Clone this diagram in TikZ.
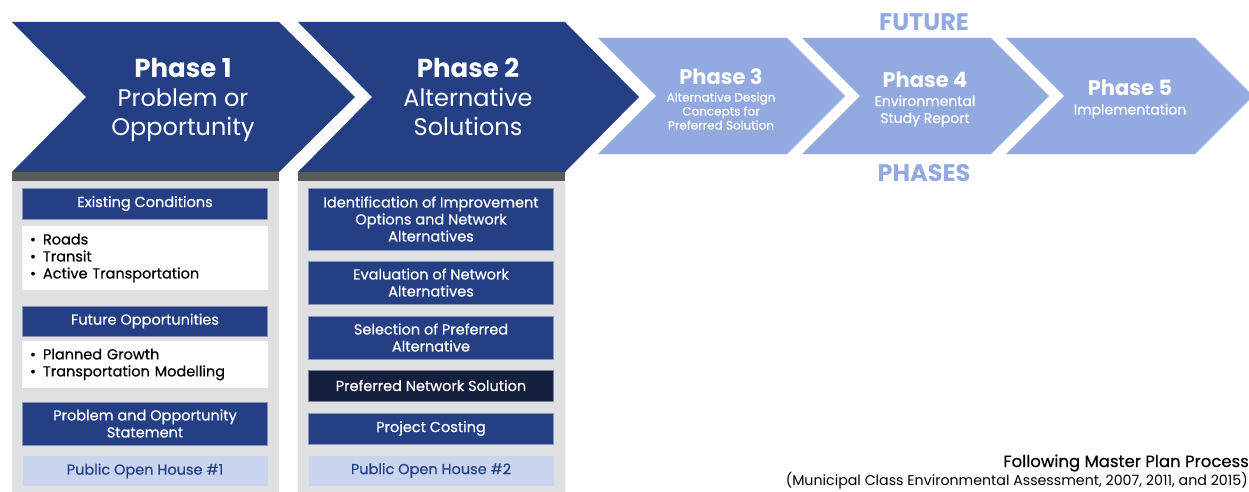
\documentclass[tikz,border=0pt]{standalone}
\usepackage{fontspec}
\setmainfont{Poppins}
\newfontfamily\medfont{Poppins}[FakeBold=0.5]
\definecolor{navy}{HTML}{243F84}
\definecolor{darknavy}{HTML}{15203E}
\definecolor{lightblue}{HTML}{93AAE1}
\definecolor{paleblue}{HTML}{C9D5EF}
\definecolor{panelgray}{HTML}{DFE0E2}
\definecolor{bargray}{HTML}{58595B}
\newcommand{\fs}[2]{\fontsize{#1}{#2}\selectfont}

\begin{document}
\begin{tikzpicture}[x=1pt,y=-1pt,
  task/.style={fill=#1,draw=#1!55!white,line width=0.8pt,text=white,minimum width=245pt,align=center,inner sep=0pt,font=\medfont\fs{14.5}{17}},
  note/.style={fill=white,text=black,minimum width=246pt,text width=230pt,align=left,inner sep=8pt,font=\medfont\fs{14.5}{17}},
  house/.style={fill=paleblue,text=navy,minimum width=245pt,minimum height=30pt,inner sep=0pt,font=\medfont\fs{14.5}{17}},
  title/.style={text=white,align=center,inner sep=0pt,font=\fs{#1}{#1}\bfseries},
  sub/.style={text=white,align=center,inner sep=0pt},
  future/.style={text=lightblue,inner sep=0pt,font=\fs{24}{24}\bfseries}]
\useasboundingbox (0,0) rectangle (1249,492);
% current phases
\fill[navy] (12,22) -- (279,22) -- (355,97) -- (279,172) -- (12,172) -- (86,97) -- cycle;
\fill[navy] (298,22) -- (565,22) -- (639,97) -- (565,172) -- (298,172) -- (372,97) -- cycle;
% future phases
\fill[lightblue] (598,38) -- (787,38) -- (845,96) -- (787,154) -- (598,154) -- (656,96) -- cycle;
\fill[lightblue] (802,38) -- (991,38) -- (1049,96) -- (991,154) -- (802,154) -- (860,96) -- cycle;
\fill[lightblue] (1006,38) -- (1195,38) -- (1253,96) -- (1195,154) -- (1006,154) -- (1064,96) -- cycle;
\node[future] (fut) at (924,22) {FUTURE};
\node[future] (pha) at (924,173) {PHASES};
\node[sub,font=\fs{24}{29}] (p1) at (183,100) {{\fs{26}{29}\bfseries Phase 1}\\Problem or\\Opportunity};
\node[sub,font=\fs{24}{29}] (p2) at (468,97) {{\fs{26}{29}\bfseries Phase 2}\\Alternative\\Solutions};
\node[title=21] (p3) at (721,77) {Phase 3};
\node[sub,font=\medfont\fs{12}{14}] (p3s) at (721,111) {Alternative Design\\Concepts for\\Preferred Solution};
\node[title=21] (p4) at (925,80) {Phase 4};
\node[sub,font=\medfont\fs{14}{17}] (p4s) at (925,111) {Environmental\\Study Report};
\node[title=21] (p5) at (1130,88) {Phase 5};
\node[sub,font=\medfont\fs{14}{17}] (p5s) at (1130,111) {Implementation};
% panels
\fill[panelgray] (12,181) rectangle (279,492);
\fill[bargray] (12,172) rectangle (279,181);
\fill[panelgray] (298,181) rectangle (565,492);
\fill[bargray] (298,172) rectangle (565,181);
% phase 1 column
\node[task=navy,minimum height=31pt] (exist) at (145,203.5) {Existing Conditions};
\node[note,minimum height=63pt] (exlist) at (145,258) {\makebox[13pt][l]{•}Roads\\\makebox[13pt][l]{•}Transit\\\makebox[13pt][l]{•}Active Transportation};
\node[task=navy,minimum height=30pt] (futop) at (145,321) {Future Opportunities};
\node[note,minimum height=43pt] (fulist) at (145,364.5) {\makebox[13pt][l]{•}Planned Growth\\\makebox[13pt][l]{•}Transportation Modelling};
\node[task=navy,minimum height=43pt] (stmt) at (145,423.5) {Problem and Opportunity\\Statement};
\node[house] (poh1) at (145,471) {Public Open House \#1};
% phase 2 column
\node[task=navy,minimum height=62pt] (ident) at (431,219) {Identification of Improvement\\Options and Network\\Alternatives};
\node[task=navy,minimum height=43pt] (evalu) at (431,282.5) {Evaluation of Network\\Alternatives};
\node[task=navy,minimum height=43pt] (selec) at (431,337.5) {Selection of Preferred\\Alternative};
\node[task=darknavy,minimum height=31pt] (prefd) at (431,385.5) {Preferred Network Solution};
\node[task=navy,minimum height=31pt] (cost) at (431,428.5) {Project Costing};
\node[house] (poh2) at (431,470.5) {Public Open House \#2};
% process note
\node[anchor=east,inner sep=0pt,font=\medfont\fs{16.5}{17}] (proc) at (1249,463) {Following Master Plan Process};
\node[anchor=east,inner sep=0pt,font=\fs{14.2}{15}] (procref) at (1248,481) {(Municipal Class Environmental Assessment, 2007, 2011, and 2015)};
\end{tikzpicture}
\end{document}
